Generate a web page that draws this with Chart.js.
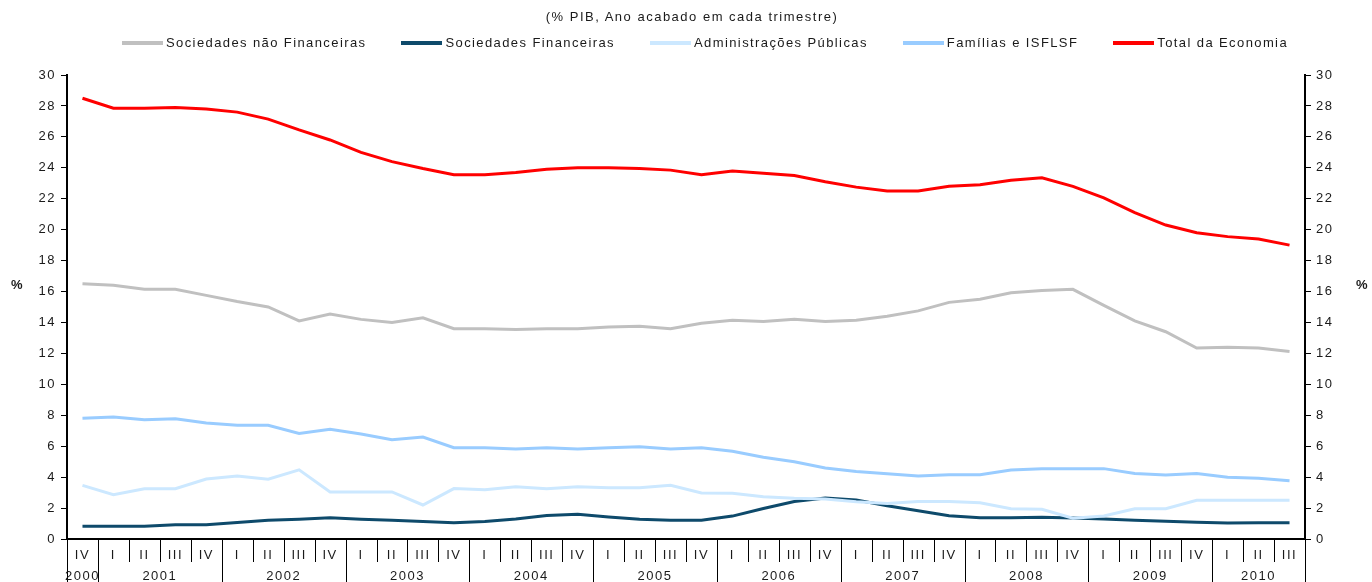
<!DOCTYPE html>
<html lang="pt">
<head>
<meta charset="utf-8">
<title>Capacidade / necessidade de financiamento por sector</title>
<script src="https://cdn.jsdelivr.net/npm/chart.js@4.4.1/dist/chart.umd.min.js"></script>
<style>
  html, body { margin: 0; padding: 0; background: #fff; }
  #wrap { position: relative; width: 1372px; height: 582px; overflow: hidden;
          font-family: "Liberation Sans", Arial, sans-serif; color: #1a1a1a; }
  #chart { position: absolute; left: 0; top: 0; }
  .title { position: absolute; top: 9px; left: 0; width: 1384px; text-align: center;
           font-size: 13px; line-height: 16px; letter-spacing: 1.5px; }
  .legend { position: absolute; top: 35px; left: 122px; display: flex; gap: 35px;
            font-size: 13px; line-height: 16px; letter-spacing: 1.4px; white-space: nowrap; }
  .legend span { display: flex; align-items: center; }
  .legend i { display: inline-block; width: 41px; height: 4px; margin-right: 3px; }
  .unit { position: absolute; top: 277px; font-size: 13px; font-weight: bold; }
</style>
</head>
<body>
<div id="wrap">
  <canvas id="chart" width="1372" height="582"></canvas>
  <div class="title">(% PIB, Ano acabado em cada trimestre)</div>
  <div class="legend" id="legend"></div>
  <div class="unit" style="left:11px">%</div>
  <div class="unit" style="left:1356px">%</div>
</div>
<script>
/* ── Data ──────────────────────────────────────────────────────────────── */
const quarters = [
  "IV",
  "I","II","III","IV", "I","II","III","IV", "I","II","III","IV",
  "I","II","III","IV", "I","II","III","IV", "I","II","III","IV",
  "I","II","III","IV", "I","II","III","IV", "I","II","III","IV",
  "I","II","III"
];
const years = [
  "2000",
  "2001","2001","2001","2001", "2002","2002","2002","2002", "2003","2003","2003","2003",
  "2004","2004","2004","2004", "2005","2005","2005","2005", "2006","2006","2006","2006",
  "2007","2007","2007","2007", "2008","2008","2008","2008", "2009","2009","2009","2009",
  "2010","2010","2010"
];

const yTicksMin = 0, yTicksMax = 30, yTickStep = 2;

const socNaoFin = [16.5,16.4,16.15,16.15,15.75,15.35,15.0,14.1,14.55,14.2,14.0,14.3,
                   13.6,13.6,13.55,13.6,13.6,13.7,13.75,13.6,13.95,14.15,14.07,14.2,
                   14.07,14.15,14.4,14.75,15.3,15.5,15.92,16.07,16.14,15.1,14.1,13.4,
                   12.35,12.4,12.35,12.12];
const socFin    = [0.82,0.82,0.82,0.92,0.92,1.07,1.22,1.28,1.37,1.28,1.22,1.13,
                   1.05,1.13,1.3,1.52,1.6,1.42,1.27,1.21,1.21,1.48,1.97,2.42,
                   2.65,2.52,2.15,1.83,1.51,1.38,1.38,1.4,1.36,1.3,1.21,1.14,
                   1.08,1.04,1.05,1.05];
const admPub    = [3.47,2.87,3.25,3.25,3.88,4.07,3.86,4.47,3.04,3.04,3.04,2.2,
                   3.26,3.19,3.38,3.25,3.38,3.32,3.32,3.47,2.97,2.96,2.73,2.63,
                   2.58,2.41,2.3,2.43,2.43,2.35,1.96,1.92,1.34,1.49,1.96,1.96,
                   2.5,2.5,2.5,2.5];
const familias  = [7.8,7.88,7.71,7.78,7.5,7.35,7.35,6.83,7.09,6.79,6.42,6.59,
                   5.9,5.9,5.82,5.9,5.82,5.9,5.97,5.82,5.9,5.67,5.28,5.0,
                   4.59,4.37,4.22,4.07,4.16,4.16,4.46,4.55,4.55,4.55,4.24,4.14,
                   4.24,4.0,3.92,3.77];
const totalEcon = [28.5,27.85,27.85,27.9,27.8,27.6,27.15,26.45,25.8,25.0,24.4,23.95,
                   23.55,23.55,23.7,23.9,24.0,24.0,23.95,23.85,23.55,23.8,23.65,23.5,
                   23.1,22.75,22.5,22.5,22.8,22.9,23.2,23.35,22.8,22.05,21.1,20.3,
                   19.8,19.55,19.4,19.0];

const seriesNames  = ["Sociedades não Financeiras","Sociedades Financeiras","Administrações Públicas","Famílias e ISFLSF","Total da Economia"];
const seriesValues = [socNaoFin, socFin, admPub, familias, totalEcon];
const seriesColors = ["#c0c0c0", "#0e4a6b", "#cce8ff", "#99ccff", "#ff0000"];

/* ── Legend (HTML) ─────────────────────────────────────────────────────── */
document.getElementById("legend").innerHTML = seriesNames
  .map((n, i) => `<span><i style="background:${seriesColors[i]}"></i>${n}</span>`).join("");

/* ── Helpers ───────────────────────────────────────────────────────────── */
const FONT = { family: "'Liberation Sans', Arial, sans-serif", size: 13 };
const spacing = {
  id: "spacing",
  beforeLayout(chart) { chart.ctx.letterSpacing = "1.5px"; },
  beforeDraw(chart)   { chart.ctx.letterSpacing = "1.5px"; }
};

/* quarter / year separators and year labels under the x axis */
const yearGroups = {
  id: "yearGroups",
  afterDraw(chart) {
    const x = chart.scales.x, ctx = chart.ctx, n = quarters.length;
    const top = chart.chartArea.bottom;
    const half = (x.getPixelForValue(1) - x.getPixelForValue(0)) / 2;
    ctx.save();
    ctx.letterSpacing = "1.5px";
    ctx.strokeStyle = "#000";
    ctx.lineWidth = 1;
    for (let i = 0; i <= n; i++) {
      const px = Math.round(i < n ? x.getPixelForValue(i) - half : x.getPixelForValue(n - 1) + half) + 0.5;
      const edge = i === 0 || i === n || years[i] !== years[i - 1];
      ctx.beginPath();
      ctx.moveTo(px, top);
      ctx.lineTo(px, edge ? chart.height : top + 23);
      ctx.stroke();
    }
    ctx.fillStyle = "#1a1a1a";
    ctx.font = `${FONT.size}px ${FONT.family}`;
    ctx.textAlign = "center";
    ctx.textBaseline = "middle";
    let start = 0;
    for (let i = 1; i <= n; i++) {
      if (i === n || years[i] !== years[start]) {
        const cx = (x.getPixelForValue(start) + x.getPixelForValue(i - 1)) / 2;
        ctx.fillText(years[start], cx, top + 37);
        start = i;
      }
    }
    ctx.restore();
  }
};

const yAxis = (position) => ({
  position,
  min: yTicksMin, max: yTicksMax,
  afterFit: s => { s.width = 67; },
  border: { color: "#000", width: 2 },
  grid: { drawOnChartArea: false, drawTicks: true, tickLength: 6, color: "#000" },
  ticks: { stepSize: yTickStep, color: "#1a1a1a", font: FONT, padding: 5 }
});

new Chart(document.getElementById("chart"), {
  type: "line",
  data: {
    labels: quarters,
    datasets: seriesValues.map((v, i) => ({
      label: seriesNames[i],
      data: v,
      borderColor: seriesColors[i],
      backgroundColor: seriesColors[i],
      borderWidth: 3,
      pointRadius: 0,
      tension: 0,
      yAxisID: "y",
      order: 4 - i
    }))
  },
  options: {
    responsive: false,
    animation: false,
    layout: { padding: { top: 75, left: 0, right: 0, bottom: 0 } },
    plugins: { legend: { display: false }, title: { display: false }, tooltip: { enabled: false } },
    scales: {
      x: {
        offset: true,
        afterFit: s => { s.height = 43; },
        border: { color: "#000", width: 2 },
        grid: { display: false },
        ticks: { color: "#1a1a1a", font: FONT, padding: 1, maxRotation: 0, autoSkip: false }
      },
      y: yAxis("left"),
      y2: { ...yAxis("right"), display: true }
    }
  },
  plugins: [spacing, yearGroups]
});
</script>
</body>
</html>
